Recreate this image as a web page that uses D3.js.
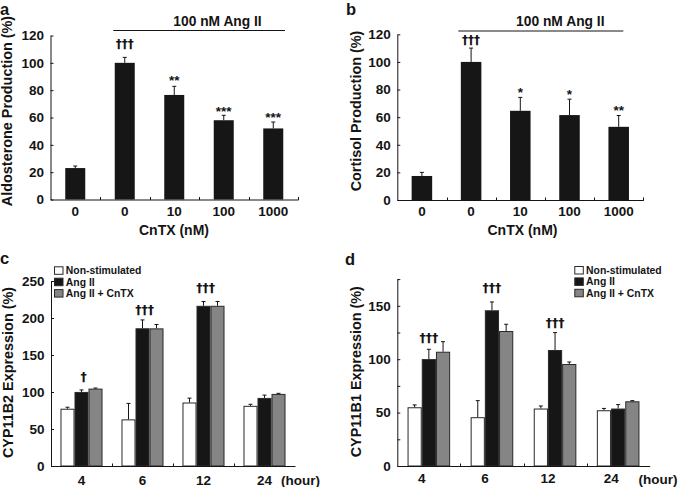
<!DOCTYPE html>
<html><head><meta charset="utf-8">
<script src="https://cdn.jsdelivr.net/npm/d3@7"></script>
<style>
body{margin:0;background:#fff;}
svg{display:block;font-family:"Liberation Sans",Arial,Helvetica,sans-serif;font-weight:bold;}
</style></head><body>
<svg id="chart" width="678" height="487"></svg>
<script>
// ---------- DATA ----------
// Panels a & b: dose of CnTX
const doseLabels = ["0", "0", "10", "100", "1000"];
const aldoValues = [23, 100, 76.5, 58, 52];
const aldoErrors = [1.5, 4, 6.3, 3.6, 4.7];
const aldoMarkIndex = [1, 2, 3, 4];
const aldoMarkText = ["†††", "**", "***", "***"];
const aldoMarkLevel = [111, 83.8, 61.2, 56.6];

const cortValues = [17.4, 100, 64.6, 61.5, 53];
const cortErrors = [2.6, 10, 9.7, 11.5, 8.2];
const cortMarkIndex = [1, 2, 3, 4];
const cortMarkText = ["†††", "*", "*", "**"];
const cortMarkLevel = [113.3, 74.5, 73.5, 61.5];

// Panels c & d: time course
const hours = ["4", "6", "12", "24"];
const seriesNames = ["Non-stimulated", "Ang II", "Ang II + CnTX"];

const b2NonStim = [77.4, 63, 85.8, 81.3];
const b2NonStimErr = [2, 21.6, 5.9, 2.1];
const b2AngII = [100.1, 186.1, 216.5, 92];
const b2AngIIErr = [2.7, 11.3, 5.8, 3.8];
const b2AngCnTX = [104.6, 186, 216.5, 97.4];
const b2AngCnTXErr = [0.8, 5.2, 5.8, 0.8];
const b2MarkIndex = [0, 1, 2];
const b2MarkText = ["†", "†††", "†††"];
const b2MarkLevel = [114.2, 205.4, 235];

const b1NonStim = [55, 45.7, 53.8, 52.2];
const b1NonStimErr = [2.2, 15.5, 2.4, 1.7];
const b1AngII = [100.1, 145.8, 108.6, 53.8];
const b1AngIIErr = [9.2, 7.8, 16.3, 3.7];
const b1AngCnTX = [107, 126.4, 95.5, 60.6];
const b1AngCnTXErr = [9.4, 6.3, 1.9, 0.6];
const b1MarkIndex = [0, 1, 2];
const b1MarkText = ["†††", "†††", "†††"];
const b1MarkLevel = [115.8, 162.6, 130.4];

// ---------- STYLE ----------
const INK = "#141414";
const DAGGER_FONT = "'DejaVu Sans','Liberation Sans',Arial,sans-serif";
const seriesFill = ["#ffffff", "#161616", "#858585"];
const svg = d3.select("#chart");

function styleAxis(g, size) {
  g.attr("font-family", null).attr("font-size", size).attr("font-weight", "bold");
  g.selectAll("path,line").attr("stroke", INK);
  g.selectAll("text").attr("fill", INK);
}

function errorBar(g, cx, yScale, v, e, capHalf) {
  g.append("line").attr("x1", cx).attr("x2", cx)
    .attr("y1", yScale(v)).attr("y2", yScale(v + e))
    .attr("stroke", INK).attr("stroke-width", 1);
  g.append("line").attr("x1", cx - capHalf).attr("x2", cx + capHalf)
    .attr("y1", yScale(v + e)).attr("y2", yScale(v + e))
    .attr("stroke", INK).attr("stroke-width", 1);
}

function markText(x, y, t, size) {
  const isDagger = t.includes("†");
  svg.append("text").attr("x", x).attr("y", y)
    .attr("text-anchor", "middle").attr("fill", INK)
    .attr("font-family", isDagger ? DAGGER_FONT : null)
    .attr("font-size", isDagger ? size : 13.5)
    .text(t);
}

function yTitle(text, x, y) {
  svg.append("text").attr("transform", `translate(${x},${y}) rotate(-90)`)
    .attr("text-anchor", "middle").attr("font-size", 14.4).attr("fill", INK).text(text);
}

function panelLetter(t, x, y) {
  svg.append("text").attr("x", x).attr("y", y).attr("font-size", 16.5).attr("fill", INK).text(t);
}

// ---------- SIMPLE BAR PANELS (a, b) ----------
function simplePanel(o) {
  const n = o.values.length;
  const x = d3.scaleBand().domain(d3.range(n)).range([o.x0, o.x1])
    .paddingInner(o.pad).paddingOuter(o.pad / 2);
  const y = d3.scaleLinear().domain([0, 120]).range([o.y0, o.yTop]);
  const g = svg.append("g");

  g.selectAll("rect.bar").data(o.values).join("rect")
    .attr("x", (d, i) => x(i)).attr("width", x.bandwidth())
    .attr("y", d => y(d)).attr("height", d => y(0) - y(d))
    .attr("fill", "#161616");
  o.values.forEach((v, i) => errorBar(g, x(i) + x.bandwidth() / 2, y, v, o.errors[i], 2));

  const ya = svg.append("g").attr("transform", `translate(${o.x0},0)`)
    .call(d3.axisLeft(y).tickValues(d3.range(0, 121, 20)).tickSizeInner(-3).tickSizeOuter(0).tickPadding(6.5));
  styleAxis(ya, 13.5);

  const xa = svg.append("g").attr("transform", `translate(0,${o.y0})`)
    .call(d3.axisBottom(x).tickFormat(i => doseLabels[i]).tickSize(0).tickSizeOuter(0).tickPadding(o.xPad));
  styleAxis(xa, 13.5);
  for (let k = 1; k <= n; k++) {
    const bx = Math.round(o.x0 + k * x.step()) + 0.5;
    xa.append("line").attr("x1", bx).attr("x2", bx)
      .attr("y1", 0.5).attr("y2", -2.5).attr("stroke", INK);
  }

  o.markIndex.forEach((idx, j) => {
    markText(x(idx) + x.bandwidth() / 2, y(o.markLevel[j]), o.markText[j], 12);
  });

  svg.append("line").attr("x1", o.brX1).attr("x2", o.brX2).attr("y1", o.brY).attr("y2", o.brY)
    .attr("stroke", INK).attr("stroke-width", 1);
  svg.append("text").attr("x", o.brTextX).attr("y", 26).attr("text-anchor", "middle")
    .attr("font-size", 13.8).attr("fill", INK).text("100 nM Ang II");

  yTitle(o.yLabel, o.yTitleX, 111);
  svg.append("text").attr("x", o.xTitleX).attr("y", 234.5).attr("text-anchor", "middle")
    .attr("font-size", 14).attr("fill", INK).text("CnTX (nM)");
  panelLetter(o.letter, o.letterX, 15);
}

simplePanel({
  values: aldoValues, errors: aldoErrors,
  markIndex: aldoMarkIndex, markText: aldoMarkText, markLevel: aldoMarkLevel,
  x0: 50.5, x1: 298, y0: 199.5, yTop: 35.5, pad: 0.596, xPad: 7.4,
  brX1: 113.3, brX2: 285, brY: 30.5, brTextX: 217.5,
  yLabel: "Aldosterone Production (%)", yTitleX: 11.8, xTitleX: 174,
  letter: "a", letterX: 0
});

simplePanel({
  values: cortValues, errors: cortErrors,
  markIndex: cortMarkIndex, markText: cortMarkText, markLevel: cortMarkLevel,
  x0: 397.3, x1: 643.3, y0: 200, yTop: 34.3, pad: 0.583, xPad: 6.1,
  brX1: 458.3, brX2: 623.3, brY: 31, brTextX: 560.3,
  yLabel: "Cortisol Production (%)", yTitleX: 360.5, xTitleX: 522.5,
  letter: "b", letterX: 346
});

// ---------- GROUPED BAR PANELS (c, d) ----------
function groupedPanel(o) {
  const x0 = d3.scaleBand().domain(hours).range([o.x0, o.x1])
    .paddingInner(o.pad).paddingOuter(o.pad / 2);
  const x1 = d3.scaleBand().domain(seriesNames).range([0, x0.bandwidth()]);
  const y = d3.scaleLinear().domain([0, o.yMax]).range([o.y0, o.yTop]);
  const g = svg.append("g");

  o.series.forEach((s, si) => {
    const name = seriesNames[si];
    g.selectAll(null).data(s.values).join("rect")
      .attr("x", (d, i) => x0(hours[i]) + x1(name) + 0.5)
      .attr("width", x1.bandwidth() - 1)
      .attr("y", d => y(d) + 0.5).attr("height", d => y(0) - y(d) - 0.5)
      .attr("fill", seriesFill[si]).attr("stroke", "#2a2a2a").attr("stroke-width", 1);
    s.values.forEach((v, i) => errorBar(g, x0(hours[i]) + x1(name) + x1.bandwidth() / 2, y, v, s.errors[i], 2));
  });

  const ya = svg.append("g").attr("transform", `translate(${o.x0},0)`)
    .call(d3.axisLeft(y).tickValues(o.yTicks).tickFormat(v => (v % 50 === 0 ? v : ""))
      .tickSizeInner(-3).tickSizeOuter(0).tickPadding(6.5));
  styleAxis(ya, 13.5);

  const xa = svg.append("g").attr("transform", `translate(0,${o.y0})`)
    .call(d3.axisBottom(x0).tickSize(0).tickSizeOuter(0).tickPadding(o.xPad));
  styleAxis(xa, 13.5);
  xa.selectAll(".tick text").attr("dx", o.labelShift);
  for (let k = 1; k < hours.length; k++) {
    const bx = Math.round(o.x0 + k * x0.step()) + 0.5;
    xa.append("line").attr("x1", bx).attr("x2", bx).attr("y1", 0.5).attr("y2", -2.5).attr("stroke", INK);
  }
  svg.append("text").attr("x", o.hourX).attr("y", o.hourY).attr("font-size", 13.5)
    .attr("fill", INK).text("(hour)");

  o.markIndex.forEach((idx, j) => {
    markText(x0(hours[idx]) + x0.bandwidth() / 2 + o.markShift, y(o.markLevel[j]), o.markText[j], 12.5);
  });

  seriesNames.forEach((name, si) => {
    const by = o.legY + si * 11.4;
    svg.append("rect").attr("x", o.legX + 0.5).attr("y", by - 7.5).attr("width", 8.5).attr("height", 7.5)
      .attr("fill", seriesFill[si]).attr("stroke", "#2a2a2a").attr("stroke-width", 1);
    svg.append("text").attr("x", o.legX + 11.8).attr("y", by).attr("font-size", 10.4)
      .attr("fill", INK).text(name);
  });

  yTitle(o.yLabel, o.yTitleX, o.yTitleY);
  panelLetter(o.letter, o.letterX, o.letterY);
}

groupedPanel({
  series: [
    { values: b2NonStim, errors: b2NonStimErr },
    { values: b2AngII, errors: b2AngIIErr },
    { values: b2AngCnTX, errors: b2AngCnTXErr }
  ],
  markIndex: b2MarkIndex, markText: b2MarkText, markLevel: b2MarkLevel, markShift: 2,
  x0: 51, x1: 295, y0: 466, yTop: 281, yMax: 250, yTicks: d3.range(0, 251, 50),
  pad: 0.311, xPad: 9.4, labelShift: 0, hourX: 281, hourY: 485,
  legX: 54, legY: 274.3,
  yLabel: "CYP11B2 Expression (%)", yTitleX: 12.5, yTitleY: 372.5,
  letter: "c", letterX: 0, letterY: 263.5
});

groupedPanel({
  series: [
    { values: b1NonStim, errors: b1NonStimErr },
    { values: b1AngII, errors: b1AngIIErr },
    { values: b1AngCnTX, errors: b1AngCnTXErr }
  ],
  markIndex: b1MarkIndex, markText: b1MarkText, markLevel: b1MarkLevel, markShift: 0,
  x0: 397.3, x1: 649.7, y0: 466, yTop: 279.1, yMax: 175, yTicks: d3.range(0, 176, 25),
  pad: 0.325, xPad: 7.9, labelShift: -7, hourX: 638.5, hourY: 483.5,
  legX: 574.3, legY: 274,
  yLabel: "CYP11B1 Expression (%)", yTitleX: 360.5, yTitleY: 371.7,
  letter: "d", letterX: 345, letterY: 265
});
</script>
</body></html>
